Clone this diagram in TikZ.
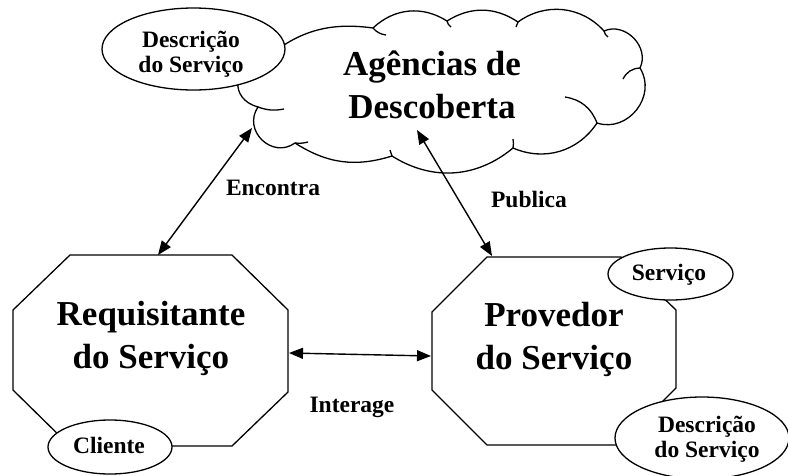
\documentclass[tikz,border=0pt]{standalone}
\usepackage{fontspec}
\setmainfont{Liberation Serif}
\usetikzlibrary{arrows.meta,shapes.geometric}
\newcommand{\twoline}[2]{\begin{tabular}[t]{@{}c@{}}#1\\#2\end{tabular}}
\begin{document}
\begin{tikzpicture}[x=1pt,y=-1pt,
  outline/.style={line width=1.3pt, line join=round},
  big/.style={font=\fontsize{35}{43}\selectfont\bfseries, inner sep=0pt, anchor=base},
  small/.style={font=\fontsize{23.5}{25.5}\selectfont\bfseries, inner sep=0pt, anchor=base},
  oval/.style={ellipse, draw, fill=white, line width=1.3pt, inner sep=0pt},
  link/.style={line width=1.4pt, {Triangle[length=14pt,width=11pt]}-{Triangle[length=14pt,width=11pt]}}
]
\useasboundingbox (0,0) rectangle (788,475);

% cloud: Agencias de Descoberta
\draw[outline, fill=white]
  (262,62) to[bend left=25] (373,28)
  to[bend left=38] (447,21)
  to[bend left=33] (518,22)
  to[bend left=42] (604,31)
  to[bend left=70, looseness=1.15] (640,68)
  to[bend left=70, looseness=1.2] (597,123)
  to[bend left=40] (513,148)
  to[bend left=36] (392,156)
  to[bend left=25] (295,143)
  to[bend left=80, looseness=1.4] (258,107)
  to[bend left=80, looseness=1.7] (262,62) -- cycle;
% cloud folds
\draw[outline] (373,28) to[bend right=20] (386,35);
\draw[outline] (447,21) to[bend right=20] (451,27);
\draw[outline] (516,27) to[bend left=10] (518,22);
\draw[outline] (604,31) to[bend right=20] (608,37);
\draw[outline] (640,68) to[bend right=30] (623,79);
\draw[outline] (565,97) to[bend left=30] (597,123);
\draw[outline] (513,139) to[bend left=10] (513,148);
\draw[outline] (390,150) to[bend left=10] (392,156);
\draw[outline] (295,143) to[bend right=10] (308,142);
\draw[outline] (258,107) to[bend right=15] (284,109);

\node[oval, minimum width=183pt, minimum height=82pt] (descA) at (193.5,49) {};

% octagons
\draw[outline] (70,255) -- (232,255) -- (288,310) -- (288,392) -- (232,446)
  -- (70,446) -- (13,390) -- (13,310) -- cycle;
\draw[outline] (487,257) -- (621,257) -- (676,310) -- (676,388) -- (619,445)
  -- (487,445) -- (432,390) -- (432,312) -- cycle;

\node[oval, minimum width=125pt, minimum height=52pt] (servico) at (670.5,274) {};
\node[oval, minimum width=124pt, minimum height=54pt] (cliente) at (110,447) {};
\node[oval, minimum width=174pt, minimum height=82pt] (descB) at (702,438) {};

% connector ends
\coordinate (enc-a) at (158,255);
\coordinate (enc-b) at (252,128);
\coordinate (pub-a) at (492,256);
\coordinate (pub-b) at (417,130);
\coordinate (int-a) at (289,353);
\coordinate (int-b) at (431,356);
\draw[link] (enc-a) -- (enc-b);
\draw[link] (pub-a) -- (pub-b);
\draw[link] (int-a) -- (int-b);

% texts
\node[big] (agencias) at (432,75) {\twoline{Agências de}{Descoberta}};
\node[big] (reqtxt) at (151,325) {\twoline{Requisitante}{do Serviço}};
\node[big] (provtxt) at (554,326) {\twoline{Provedor}{do Serviço}};
\node[small] (descAtxt) at (191,47) {\twoline{Descrição}{do Serviço}};
\node[small] (descBtxt) at (707,432) {\twoline{Descrição}{do Serviço}};
\node[small] (servtxt) at (669,280) {Serviço};
\node[small] (clitxt) at (109,453) {Cliente};
\node[small] (enctxt) at (273,195) {Encontra};
\node[small] (pubtxt) at (529,207) {Publica};
\node[small] (inttxt) at (352,412) {Interage};
\end{tikzpicture}
\end{document}
